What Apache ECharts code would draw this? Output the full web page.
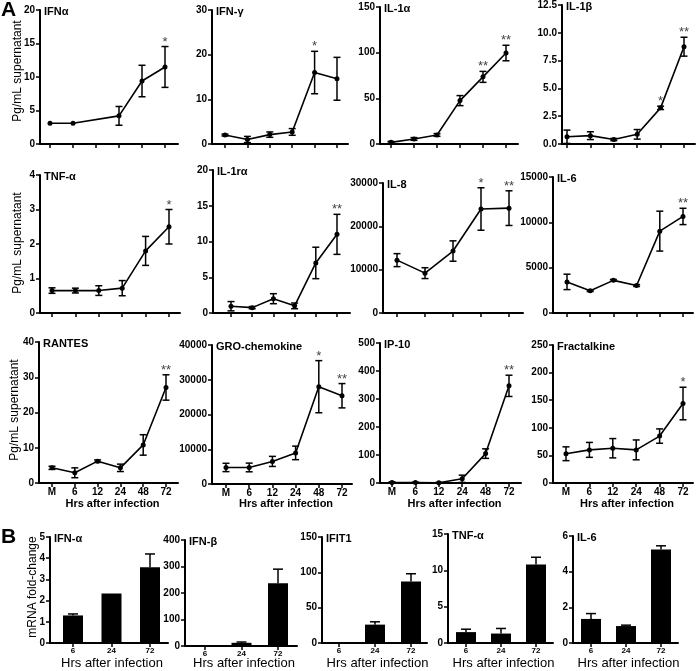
<!DOCTYPE html>
<html><head><meta charset="utf-8">
<script src="https://cdn.jsdelivr.net/npm/echarts@6/dist/echarts.min.js"></script>
<style>html,body{margin:0;padding:0;background:#fff}#c{width:696px;height:671px}</style>
</head><body><div id="c"></div>
<script>
// ---------- DATA ----------
const timeLabels = ['M', '6', '12', '24', '48', '72'];
const il8Labels = ['6', '12', '24', '48', '72'];
const mrnaLabels = ['6', '24', '72'];

const ifnaMean = [3.1, 3.1, null, 4.2, 9.4, 11.5];
const ifnaErr = [0, 0, null, 1.4, 2.35, 3.05];
const ifnaStars = ['', '', '', '', '', '*'];

const ifngMean = [2.0, 1.0, 2.1, 2.7, 16.0, 14.6];
const ifngErr = [0.2, 0.7, 0.6, 0.75, 4.75, 4.8];
const ifngStars = ['', '', '', '', '*', ''];

const il1aMean = [1.8, 5.5, 9.9, 47.5, 73.5, 99.6];
const il1aErr = [1.0, 1.5, 1.5, 5.5, 6.0, 8.5];
const il1aStars = ['', '', '', '', '**', '**'];

const il1bMean = [0.65, 0.75, 0.4, 0.87, 3.25, 8.75];
const il1bErr = [0.6, 0.35, 0.1, 0.43, 0.15, 0.85];
const il1bStars = ['', '', '', '', '*', '**'];

const tnfMean = [0.65, 0.65, 0.65, 0.72, 1.8, 2.5];
const tnfErr = [0.08, 0.07, 0.14, 0.22, 0.42, 0.5];
const tnfStars = ['', '', '', '', '', '*'];

const il1raMean = [0.95, 0.75, 2.0, 1.0, 7.0, 11.0];
const il1raErr = [0.65, 0.15, 0.7, 0.4, 2.2, 2.8];
const il1raStars = ['', '', '', '', '', '**'];

const il8Mean = [12200, 9200, 14300, 24000, 24200];
const il8Err = [1500, 1250, 2350, 4900, 4000];
const il8Stars = ['', '', '', '*', '**'];

const il6Mean = [3430, 2450, 3600, 3030, 9030, 10650];
const il6Err = [850, 80, 100, 100, 2200, 900];
const il6Stars = ['', '', '', '', '', '**'];

const rantesMean = [4.3, 2.9, 6.2, 4.3, 10.8, 27.1];
const rantesErr = [0.45, 1.4, 0.35, 1.05, 2.9, 3.6];
const rantesStars = ['', '', '', '', '', '**'];

const groMean = [4760, 4760, 6500, 8950, 28000, 25400];
const groErr = [1200, 1250, 1450, 1950, 7500, 3500];
const groStars = ['', '', '', '', '*', '**'];

const ip10Mean = [2, 2, 1, 15, 105, 347];
const ip10Err = [2, 1, 1, 13, 17, 38];
const ip10Stars = ['', '', '', '', '', '**'];

const fracMean = [53, 60, 63, 60, 85, 144];
const fracErr = [12.5, 13.5, 17.5, 18, 13, 29.5];
const fracStars = ['', '', '', '', '', '*'];

const mIfnaMean = [1.3, 2.33, 3.57];
const mIfnaErr = [0.07, 0, 0.63];
const mIfnbMean = [1, 12, 237];
const mIfnbErr = [0, 3, 53];
const mIfit1Mean = [0, 26, 87];
const mIfit1Err = [0, 4, 11];
const mTnfMean = [1.5, 1.3, 10.8];
const mTnfErr = [0.4, 0.7, 1.0];
const mIl6Mean = [1.35, 0.95, 5.25];
const mIl6Err = [0.3, 0.05, 0.2];

// ---------- PANELS ----------
const linePanels = [
  {title: 'IFNα', labels: timeLabels, mean: ifnaMean, err: ifnaErr, stars: ifnaStars, max: 20, interval: 5, dec: 0},
  {title: 'IFN-γ', labels: timeLabels, mean: ifngMean, err: ifngErr, stars: ifngStars, max: 30, interval: 10, dec: 0},
  {title: 'IL-1α', labels: timeLabels, mean: il1aMean, err: il1aErr, stars: il1aStars, max: 150, interval: 50, dec: 0},
  {title: 'IL-1β', labels: timeLabels, mean: il1bMean, err: il1bErr, stars: il1bStars, max: 12.5, interval: 2.5, dec: 1},
  {title: 'TNF-α', labels: timeLabels, mean: tnfMean, err: tnfErr, stars: tnfStars, max: 4, interval: 1, dec: 0},
  {title: 'IL-1rα', labels: timeLabels, mean: il1raMean, err: il1raErr, stars: il1raStars, max: 20, interval: 5, dec: 0},
  {title: 'IL-8', labels: il8Labels, mean: il8Mean, err: il8Err, stars: il8Stars, max: 30000, interval: 10000, dec: 0},
  {title: 'IL-6', labels: timeLabels, mean: il6Mean, err: il6Err, stars: il6Stars, max: 15000, interval: 5000, dec: 0},
  {title: 'RANTES', labels: timeLabels, mean: rantesMean, err: rantesErr, stars: rantesStars, max: 40, interval: 10, dec: 0, xl: true},
  {title: 'GRO-chemokine', labels: timeLabels, mean: groMean, err: groErr, stars: groStars, max: 40000, interval: 10000, dec: 0, xl: true},
  {title: 'IP-10', labels: timeLabels, mean: ip10Mean, err: ip10Err, stars: ip10Stars, max: 500, interval: 100, dec: 0, xl: true},
  {title: 'Fractalkine', labels: timeLabels, mean: fracMean, err: fracErr, stars: fracStars, max: 250, interval: 50, dec: 0, xl: true}
];
const barPanels = [
  {title: 'IFN-α', labels: mrnaLabels, mean: mIfnaMean, err: mIfnaErr, max: 5, interval: 1},
  {title: 'IFN-β', labels: mrnaLabels, mean: mIfnbMean, err: mIfnbErr, max: 400, interval: 100},
  {title: 'IFIT1', labels: mrnaLabels, mean: mIfit1Mean, err: mIfit1Err, max: 150, interval: 50},
  {title: 'TNF-α', labels: mrnaLabels, mean: mTnfMean, err: mTnfErr, max: 15, interval: 5},
  {title: 'IL-6', labels: mrnaLabels, mean: mIl6Mean, err: mIl6Err, max: 6, interval: 2}
];

// ---------- LAYOUT (pixels) ----------
// l: y-axis x, t: y of max, r: end of x axis, b: y of zero, x0: first tick x, dx: tick spacing
const lineLayout = [
  {l: 40, t: 10, r: 178, b: 144, x0: 50, dx: 23},
  {l: 212, t: 10, r: 348, b: 144, x0: 225, dx: 22.4},
  {l: 380, t: 7, r: 518, b: 144, x0: 391, dx: 23},
  {l: 562, t: 5, r: 695, b: 144, x0: 567, dx: 23.4},
  {l: 40, t: 175, r: 180, b: 313, x0: 52, dx: 23.4},
  {l: 213, t: 170, r: 350, b: 313, x0: 231, dx: 21.2},
  {l: 383, t: 183, r: 523, b: 313, x0: 397, dx: 28},
  {l: 553, t: 177, r: 693, b: 313, x0: 567, dx: 23.2},
  {l: 39, t: 342, r: 178, b: 483, x0: 52, dx: 22.8},
  {l: 212, t: 345, r: 352, b: 484, x0: 226, dx: 23.2},
  {l: 380, t: 343, r: 521, b: 483, x0: 392, dx: 23.4},
  {l: 553, t: 345, r: 693, b: 483, x0: 566, dx: 23.4}
];
const barLayout = [
  {l: 50, t: 537, r: 168, b: 643, x0: 73, dx: 38.5},
  {l: 185, t: 540, r: 297, b: 646, x0: 205, dx: 36.5},
  {l: 322, t: 537, r: 427, b: 643, x0: 339, dx: 36},
  {l: 448, t: 534, r: 553, b: 643, x0: 466, dx: 35},
  {l: 573, t: 536, r: 678, b: 643, x0: 591, dx: 35}
];

const FONT = "'Liberation Sans', Arial, sans-serif";
const grids = [], xAxes = [], yAxes = [], series = [], graphics = [];

function addAxes(k, L, labels, showLabels, max, interval, dec, lblSize) {
  const n = labels.length;
  const idx = labels.map((_, i) => i);
  const lastTick = L.x0 + (n - 1) * L.dx;
  grids.push({left: L.l, top: L.t, width: L.r - L.l, height: L.b - L.t, containLabel: false, outerBoundsMode: 'none'});
  xAxes.push({
    type: 'value', gridIndex: k,
    min: -(L.x0 - L.l) / L.dx, max: (n - 1) + (L.r - lastTick) / L.dx,
    axisLine: {show: true, onZero: false, lineStyle: {color: '#000', width: 2}},
    axisTick: {show: true, customValues: idx, length: 4, lineStyle: {color: '#000', width: 1.5}},
    axisLabel: {show: showLabels, customValues: idx, margin: 4, formatter: v => labels[Math.round(v)],
      color: '#000', fontFamily: FONT, fontWeight: 'bold', fontSize: lblSize},
    splitLine: {show: false}
  });
  yAxes.push({
    type: 'value', gridIndex: k, min: 0, max: max, interval: interval,
    axisLine: {show: true, onZero: false, lineStyle: {color: '#000', width: 2}},
    axisTick: {show: true, length: 4, lineStyle: {color: '#000', width: 1.5}},
    axisLabel: {margin: 5, color: '#000', fontFamily: FONT, fontWeight: 'bold', fontSize: 10,
      formatter: v => v.toFixed(dec)},
    splitLine: {show: false}
  });
}

function errRender(stars, capHalf, bothCaps) {
  return function (params, api) {
    const x = api.value(0), lo = api.value(1), hi = api.value(2);
    const pLo = api.coord([x, lo]), pHi = api.coord([x, hi]);
    const ch = [];
    if (pLo[1] - pHi[1] > 0.5) {
      ch.push({type: 'line', shape: {x1: pLo[0], y1: pLo[1], x2: pHi[0], y2: pHi[1]}, style: {stroke: '#000', lineWidth: 1.5}});
      ch.push({type: 'line', shape: {x1: pHi[0] - capHalf, y1: pHi[1], x2: pHi[0] + capHalf, y2: pHi[1]}, style: {stroke: '#000', lineWidth: 1.5}});
      if (bothCaps) ch.push({type: 'line', shape: {x1: pLo[0] - capHalf, y1: pLo[1], x2: pLo[0] + capHalf, y2: pLo[1]}, style: {stroke: '#000', lineWidth: 1.5}});
    }
    const s = stars ? stars[Math.round(x)] : '';
    if (s) ch.push({type: 'text', style: {text: s, x: pHi[0], y: pHi[1] + 2, textAlign: 'center', textVerticalAlign: 'bottom',
      align: 'center', verticalAlign: 'bottom', font: '13px ' + FONT, fill: '#444'}});
    return {type: 'group', children: ch};
  };
}

function addTitle(text, x, y, size, weight) {
  graphics.push({type: 'text', left: x, top: y, style: {text: text, font: (weight || 'bold') + ' ' + size + 'px ' + FONT, fill: '#000'}});
}

linePanels.forEach((p, k) => {
  const L = lineLayout[k];
  addAxes(k, L, p.labels, !!p.xl, p.max, p.interval, p.dec, 10);
  const pts = [], errs = [];
  p.mean.forEach((m, i) => {
    if (m === null) return;
    pts.push([i, m]);
    errs.push([i, m - p.err[i], m + p.err[i]]);
  });
  series.push({type: 'line', xAxisIndex: k, yAxisIndex: k, data: pts, symbol: 'circle', symbolSize: 5,
    itemStyle: {color: '#000'}, lineStyle: {color: '#000', width: 1.6}, animation: false, z: 3});
  series.push({type: 'custom', xAxisIndex: k, yAxisIndex: k, data: errs, encode: {x: 0, y: [1, 2]},
    renderItem: errRender(p.stars, 3.5, true), animation: false, z: 4});
  addTitle(p.title, L.l + 4, L.t - 4, 11);
  if (p.xl) {
    graphics.push({type: 'text', x: (L.l + L.r) / 2 + 4, y: 504, style: {text: 'Hrs after infection',
      textAlign: 'center', textVerticalAlign: 'middle', align: 'center', verticalAlign: 'middle',
      font: 'bold 11px ' + FONT, fill: '#000'}});
  }
});

barPanels.forEach((p, j) => {
  const k = linePanels.length + j;
  const L = barLayout[j];
  addAxes(k, L, p.labels, true, p.max, p.interval, 0, 8);
  series.push({type: 'bar', xAxisIndex: k, yAxisIndex: k, data: p.mean.map((m, i) => [i, m]), barWidth: 20,
    itemStyle: {color: '#000'}, animation: false});
  series.push({type: 'custom', xAxisIndex: k, yAxisIndex: k,
    data: p.mean.map((m, i) => [i, m, m + p.err[i]]), encode: {x: 0, y: [1, 2]},
    renderItem: errRender(null, 5, false), animation: false, z: 4});
  addTitle(p.title, L.l + 4, L.t - 4, 11);
  graphics.push({type: 'text', x: (L.l + L.r) / 2 + 3, y: 663, style: {text: 'Hrs after infection',
    textAlign: 'center', textVerticalAlign: 'middle', align: 'center', verticalAlign: 'middle',
    font: '13px ' + FONT, fill: '#000'}});
});

function vText(text, x, y, size) {
  graphics.push({type: 'text', x: x, y: y, rotation: Math.PI / 2, style: {text: text,
    textAlign: 'center', textVerticalAlign: 'middle', align: 'center', verticalAlign: 'middle',
    font: size + 'px ' + FONT, fill: '#000'}});
}
vText('Pg/mL supernatant', 18, 71, 12);
vText('Pg/mL supernatant', 18, 243, 12);
vText('Pg/mL supernatant', 15, 410, 12);
vText('mRNA fold-change', 33, 587, 12);
graphics.push({type: 'text', left: 1, top: 0, style: {text: 'A', font: 'bold 21px ' + FONT, fill: '#000'}});
graphics.push({type: 'text', left: 1, top: 527, style: {text: 'B', font: 'bold 21px ' + FONT, fill: '#000'}});

const chart = echarts.init(document.getElementById('c'), null, {renderer: 'canvas'});
chart.setOption({
  animation: false,
  backgroundColor: '#fff',
  grid: grids, xAxis: xAxes, yAxis: yAxes, series: series, graphic: graphics
});
</script></body></html>
